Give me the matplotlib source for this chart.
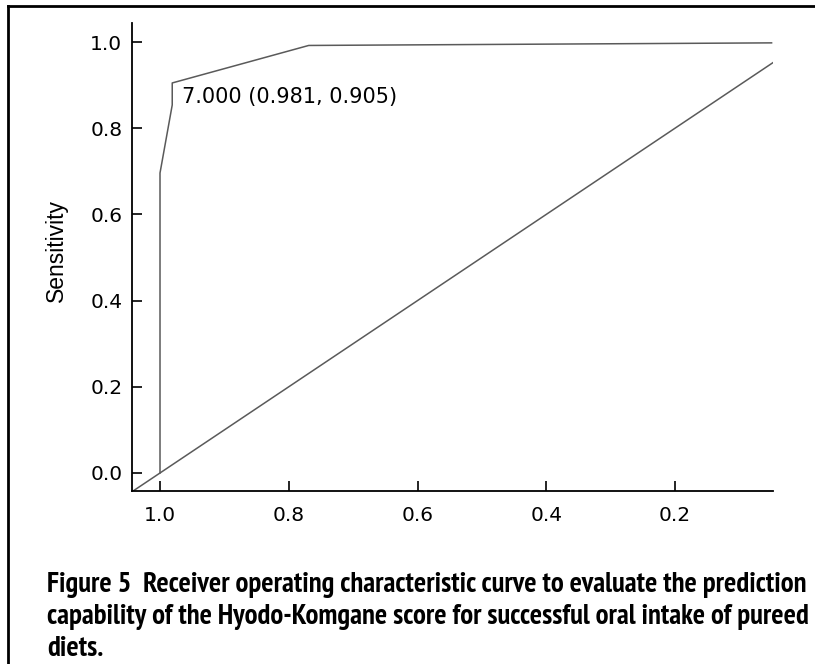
import os
import matplotlib
matplotlib.use("Agg")
import matplotlib.pyplot as plt
from matplotlib import font_manager

# ROC curve (x = specificity, y = sensitivity)
spec = [1.0, 1.0, 0.981, 0.981, 0.769, 0.05]
sens = [0.0, 0.696, 0.854, 0.905, 0.992, 0.998]
ref_x = [1.0435, 0.0478]
ref_y = [1 - v for v in ref_x]

cut_label = "7.000 (0.981, 0.905)"
cut_pos = (0.966, 0.872)

xticks = [1.0, 0.8, 0.6, 0.4, 0.2]
yticks = [0.0, 0.2, 0.4, 0.6, 0.8, 1.0]

caption = ["Figure 5  Receiver operating characteristic curve to evaluate the prediction",
           "capability of the Hyodo-Komgane score for successful oral intake of pureed",
           "diets."]


def pick_caption_font():
    # prefer a plain condensed/narrow bold face (Arial Narrow Bold look)
    best, best_score = None, -1
    for f in font_manager.fontManager.ttflist:
        fn = os.path.basename(f.fname).lower()
        tag = (f.name + " " + fn).lower()
        if "italic" in fn or "oblique" in fn:
            continue
        w = f.weight if isinstance(f.weight, int) else {"bold": 700}.get(str(f.weight), 400)
        if "bold" not in fn or "semibold" in fn or "extrabold" in fn:
            continue
        if "narrow" in tag:
            score = 5
        elif "condensed" in tag and not any(k in tag for k in ("extra", "ultra", "semi")):
            score = 4
        elif "semicondensed" in tag or "semi condensed" in tag:
            score = 3
        else:
            continue
        if w == 700:
            score += 0.5
        if score > best_score:
            best, best_score = f, score
    if best is None:
        return font_manager.FontProperties(family="Liberation Sans", weight="bold")
    return font_manager.FontProperties(fname=best.fname)


cap_prop = pick_caption_font()

W, H = 815, 664
fig = plt.figure(figsize=(W / 100, H / 100), dpi=100)
fig.patch.set_facecolor("white")

ax = fig.add_axes([132 / W, 1 - 491 / H, (773 - 132) / W, (491 - 23) / H])
ax.plot(spec, sens, color="#5a5a5a", lw=1.1)
ax.plot(ref_x, ref_y, color="#5a5a5a", lw=1.1)
ax.text(cut_pos[0], cut_pos[1], cut_label, ha="left", va="center",
        fontsize=15, family="DejaVu Sans", color="black")

ax.set_xlim(1.0435, 0.0478)
ax.set_ylim(-0.0418, 1.0441)
ax.set_xticks(xticks)
ax.set_yticks(yticks)
ax.set_xticklabels([f"{v:.1f}" for v in xticks], family="DejaVu Sans", fontsize=14.5)
ax.set_yticklabels([f"{v:.1f}" for v in yticks], family="DejaVu Sans", fontsize=14.5)
ax.tick_params(direction="in", length=7, width=1.2, pad=11)
ax.tick_params(axis="y", pad=7)
for s in ["top", "right"]:
    ax.spines[s].set_visible(False)
for s in ["left", "bottom"]:
    ax.spines[s].set_linewidth(1.3)
ax.set_ylabel("Sensitivity", family="Liberation Sans", fontsize=16.5)
ax.yaxis.set_label_coords(-0.1, 0.513)

# outer frame (right and bottom edges run off the image)
fig.add_artist(plt.Line2D([8 / W, 8 / W], [-0.1, 1 - 6 / H], color="black", lw=2,
                          transform=fig.transFigure))
fig.add_artist(plt.Line2D([8 / W, 1.1], [1 - 6 / H, 1 - 6 / H], color="black", lw=2,
                          transform=fig.transFigure))

# caption lines, widest line fitted to the width it has in the reference
baselines = [592, 624, 656]
texts = [fig.text(47 / W, 1 - b / H, line, fontproperties=cap_prop,
                  fontsize=17, va="baseline")
         for line, b in zip(caption, baselines)]
fig.canvas.draw()
w = max(t.get_window_extent().width for t in texts)
fs = 17 * (810 - 47) / w
for t in texts:
    t.set_fontsize(fs)

fig.savefig("out.png", dpi=100)
